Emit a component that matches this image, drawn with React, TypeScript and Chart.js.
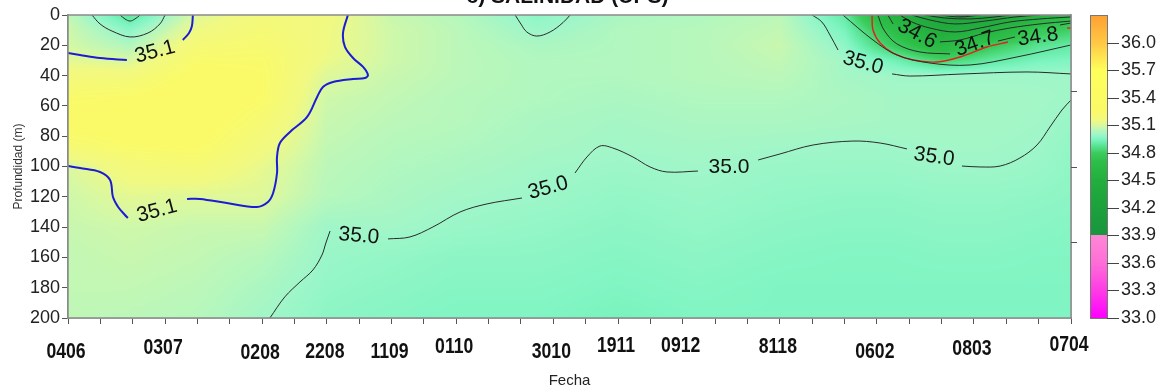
import React, { useEffect, useRef } from 'react';
import { Chart, registerables } from 'chart.js';
Chart.register(...registerables);

// ---------- DATA ----------
const dateLabels = ['0406', '0307', '0208', '2208', '1109', '0110', '3010', '1911', '0912', '8118', '0602', '0803', '0704'];
const dateTickIndex = [0, 3, 6, 8, 10, 12, 15, 17, 19, 22, 25, 28, 31];
const depthTicks = [0, 20, 40, 60, 80, 100, 120, 140, 160, 180, 200];
const colorbarTicks = [33.0, 33.3, 33.6, 33.9, 34.2, 34.5, 34.8, 35.1, 35.4, 35.7, 36.0];

// salinity field nodes (x = date-tick index, depth in m)
const gridX = [0, 1.9, 4, 6, 8, 10, 12, 14.5, 17, 19.5, 22, 24, 25.5, 27, 28.5, 30, 31];
const gridDepth = [0, 10, 20, 30, 40, 55, 70, 85, 100, 120, 140, 160, 180, 200];
// columns (one per gridX), values down the depth list
const salinityColumns = [
  [35.06, 35.08, 35.09, 35.12, 35.18, 35.24, 35.27, 35.22, 35.10, 35.08, 35.07, 35.06, 35.06, 35.055],
  [34.88, 34.97, 35.03, 35.10, 35.18, 35.25, 35.28, 35.25, 35.18, 35.12, 35.08, 35.07, 35.06, 35.05],
  [35.11, 35.15, 35.20, 35.24, 35.27, 35.29, 35.29, 35.26, 35.20, 35.11, 35.07, 35.06, 35.05, 35.04],
  [35.18, 35.20, 35.22, 35.24, 35.25, 35.25, 35.21, 35.17, 35.13, 35.11, 35.07, 35.04, 35.02, 35.005],
  [35.16, 35.15, 35.15, 35.14, 35.11, 35.08, 35.07, 35.06, 35.05, 35.04, 35.0, 34.99, 34.98, 34.97],
  [35.07, 35.08, 35.08, 35.08, 35.07, 35.06, 35.05, 35.04, 35.03, 35.02, 35.005, 34.98, 34.97, 34.96],
  [35.04, 35.05, 35.05, 35.05, 35.05, 35.04, 35.04, 35.03, 35.02, 35.005, 34.99, 34.97, 34.96, 34.95],
  [34.97, 34.995, 35.02, 35.03, 35.03, 35.03, 35.02, 35.015, 35.005, 34.995, 34.98, 34.97, 34.96, 34.95],
  [35.02, 35.03, 35.03, 35.03, 35.03, 35.02, 35.01, 35.005, 34.995, 34.98, 34.97, 34.96, 34.95, 34.94],
  [35.03, 35.04, 35.04, 35.04, 35.04, 35.03, 35.02, 35.01, 35.002, 34.99, 34.98, 34.97, 34.96, 34.95],
  [35.05, 35.06, 35.07, 35.06, 35.05, 35.03, 35.02, 35.005, 34.99, 34.98, 34.97, 34.96, 34.95, 34.95],
  [34.90, 34.94, 34.975, 35.005, 35.01, 35.02, 35.015, 35.0, 34.99, 34.975, 34.965, 34.955, 34.95, 34.95],
  [34.55, 34.70, 34.79, 34.93, 35.0, 35.01, 35.01, 35.0, 34.99, 34.975, 34.965, 34.955, 34.95, 34.95],
  [34.25, 34.45, 34.62, 34.82, 35.0, 35.01, 35.01, 35.005, 34.997, 34.98, 34.97, 34.96, 34.95, 34.95],
  [34.30, 34.55, 34.78, 34.89, 35.0, 35.01, 35.01, 35.005, 34.998, 34.98, 34.97, 34.96, 34.95, 34.95],
  [34.55, 34.77, 34.87, 34.94, 35.0, 35.006, 35.003, 34.998, 34.99, 34.975, 34.965, 34.955, 34.95, 34.95],
  [34.70, 34.81, 34.90, 34.95, 35.0, 35.0, 34.99, 34.98, 34.975, 34.97, 34.96, 34.955, 34.95, 34.95],
];

// contour lines, points as [x index, depth]
const iso351_a1 = [[0, 25.1], [0.37, 26.4], [0.99, 28.4], [1.82, 29.7]];
const iso351_a2 = [[3.55, 16.5], [3.74, 11.9], [3.83, 7.3], [3.86, 0]];
const iso351_b1 = [[8.65, 0], [8.5, 11.9], [8.56, 21.1], [8.81, 28.4], [9.12, 34.3], [9.27, 39.6], [9.18, 41.6], [8.81, 42.2], [8.19, 44.2], [7.88, 47.5], [7.7, 54.1], [7.39, 67.3], [6.86, 77.2], [6.55, 84.5], [6.46, 93.7], [6.46, 104.3], [6.34, 117.5], [6.18, 123.4], [5.84, 126.7], [4.91, 124.1], [4.08, 121.4], [3.68, 121.4]];
const iso351_b2 = [[0, 99.7], [0.37, 101], [0.99, 103.6], [1.3, 108.9], [1.39, 120.1], [1.55, 126.7], [1.76, 132], [1.85, 134]];

const iso350_tl = [[0.74, 0], [0.99, 5.9], [1.36, 10.6], [1.92, 14.5], [2.47, 11.9], [2.84, 5.9], [3.0, 0]];
const iso349_tl = [[1.61, 0], [1.76, 2.6], [1.92, 4], [2.07, 2.6], [2.23, 0]];
const iso350_top = [[13.82, 0], [14.0, 6], [14.18, 11.2], [14.49, 13.9], [14.9, 11.2], [15.3, 5], [15.52, 0]];
const iso350_l1 = [[6.24, 200], [6.7, 186.1], [7.17, 176.2], [7.57, 168.3], [7.85, 158.4], [7.97, 150.5], [8.1, 142.6]];
const iso350_l2 = [[9.89, 147.8], [10.57, 146.5], [11.28, 139.9], [12.12, 130], [12.95, 124.7], [14.03, 120.8]];
const iso350_l3 = [[15.67, 104.3], [16.04, 93.7], [16.44, 86.5], [16.84, 87.8], [17.46, 93.7], [17.99, 100.3], [18.51, 103.6], [19.47, 103]];
const iso350_l4 = [[21.33, 95.7], [22.01, 91.7], [23.03, 85.8], [24.26, 83.2], [25.1, 84.5], [25.93, 88.4]];
const iso350_l5 = [[27.63, 99.7], [28.19, 100.3], [28.81, 99.7], [29.42, 94.4], [29.95, 85.8], [30.35, 73.9], [30.72, 62.7], [31, 56.1]];
const iso350_r1 = [[23.0, 0], [23.3, 4.6], [23.55, 13.2], [23.8, 23.1]];
const iso350_r2 = [[25.47, 38.9], [26.02, 40.3], [27.57, 39], [29.64, 37.6], [31, 38.9]];
const iso349_r = [[23.95, 0], [24.88, 16.5], [25.62, 26.4], [26.64, 31.7], [27.88, 33], [29.33, 27.7], [31, 19.8]];
const iso348_r1 = [[24.85, 0], [24.88, 9.9], [25.1, 18.5], [25.5, 25.1], [26.12, 29.7], [26.86, 31], [27.57, 27.7], [28.4, 21.1], [29.05, 17.8]];
const iso348_r2 = [[30.88, 8.6], [31, 8.6]];
const iso347_a = [[25.03, 0], [25.22, 9.9], [25.62, 19.1], [26.33, 24.4], [27.26, 25.7]];
const iso347_b = [[28.74, 17.2], [29.27, 14.5]];
const iso347_c = [[30.66, 6.6], [31, 5.3]];
const iso346_a = [[25.34, 0], [25.5, 5.9]];
const iso346_b = [[26.95, 17.8], [27.57, 16.5], [28.34, 11.9], [29.11, 8.6], [30.04, 5.9], [31, 4]];
const iso345 = [[25.71, 0], [26.08, 4.6], [26.64, 8.6], [27.41, 11.2], [28.19, 8.6], [29.11, 4.6], [30.04, 2.6], [31, 1.3]];
const iso344 = [[26.08, 0], [26.64, 3.3], [27.41, 5.9], [28.34, 4], [29.27, 1.3], [30.04, 0]];
const iso343 = [[26.49, 0], [27.1, 2], [27.88, 2.6], [28.65, 1.3], [29.11, 0]];
const iso342 = [[26.95, 0], [27.57, 1.3], [28.19, 0]];
const iso341 = [[27.41, 0], [27.63, 0.7], [27.88, 0]];

// contour labels
const labelText = ['35.1', '35.1', '35.0', '35.0', '35.0', '35.0', '35.0', '34.6', '34.7', '34.8'];
const labelX = [2.69, 2.75, 8.99, 14.84, 20.43, 26.77, 24.57, 26.24, 28.03, 29.98];
const labelDepth = [24.4, 129.4, 145.9, 114.2, 100.3, 93.7, 31.7, 12.5, 19.1, 14.5];
const labelAngle = [-15, -15, 5, -15, 0, 8, 15, 28, -20, -8];

const rightTickDepths = [50, 100, 150];

// ---------- styling (not data) ----------
const dateLabelNudge = [3, -1, 4, 3, 3, -2, 3, -3, -3, -2, 3, 0, -4];

// ---------- helpers ----------
const cmapStops: number[][] = [
  [33.0, 255, 0, 255],
  [33.3, 255, 60, 230],
  [33.6, 255, 110, 215],
  [33.899, 255, 135, 215],
  [33.9, 25, 150, 60],
  [34.3, 30, 165, 60],
  [34.5, 35, 175, 62],
  [34.7, 45, 190, 72],
  [34.8, 60, 205, 95],
  [34.9, 100, 235, 165],
  [34.95, 128, 245, 195],
  [35.0, 160, 246, 200],
  [35.05, 188, 247, 185],
  [35.1, 218, 248, 160],
  [35.15, 240, 249, 130],
  [35.25, 250, 250, 105],
  [35.7, 255, 255, 90],
  [36.0, 255, 200, 70],
  [36.3, 255, 160, 50],
];
function colorFor(v: number): number[] {
  if (v <= cmapStops[0][0]) return cmapStops[0].slice(1);
  for (let i = 0; i < cmapStops.length - 1; i++) {
    const a = cmapStops[i], b = cmapStops[i + 1];
    if (v <= b[0]) {
      const t = (v - a[0]) / (b[0] - a[0]);
      return [a[1] + (b[1] - a[1]) * t, a[2] + (b[2] - a[2]) * t, a[3] + (b[3] - a[3]) * t];
    }
  }
  return cmapStops[cmapStops.length - 1].slice(1);
}
function findSeg(arr: number[], v: number) {
  let i = 0;
  while (i < arr.length - 2 && v > arr[i + 1]) i++;
  const t = Math.max(0, Math.min(1, (v - arr[i]) / (arr[i + 1] - arr[i])));
  return [i, t];
}
function sampleField(x: number, d: number) {
  const [i, t] = findSeg(gridX, x);
  const [j, u] = findSeg(gridDepth, d);
  const a = salinityColumns[i][j], b = salinityColumns[i + 1][j];
  const c = salinityColumns[i][j + 1], e = salinityColumns[i + 1][j + 1];
  return (a * (1 - t) + b * t) * (1 - u) + (c * (1 - t) + e * t) * u;
}

const fieldPlugin = {
  id: 'field',
  beforeDatasetsDraw(chart: any) {
    const { ctx, chartArea: a, scales } = chart;
    const xs = scales.x, ys = scales.y;
    const w = Math.round(a.right - a.left), h = Math.round(a.bottom - a.top);
    const off = document.createElement('canvas');
    off.width = w; off.height = h;
    const octx = off.getContext('2d')!;
    const img = octx.createImageData(w, h);
    const xv = new Array(w);
    for (let px = 0; px < w; px++) xv[px] = xs.getValueForPixel(a.left + px + 0.5);
    for (let py = 0; py < h; py++) {
      const d = ys.getValueForPixel(a.top + py + 0.5);
      for (let px = 0; px < w; px++) {
        const c = colorFor(sampleField(xv[px], d));
        const k = (py * w + px) * 4;
        img.data[k] = c[0]; img.data[k + 1] = c[1]; img.data[k + 2] = c[2]; img.data[k + 3] = 255;
      }
    }
    octx.putImageData(img, 0, 0);
    ctx.drawImage(off, a.left, a.top);
  },
};

const decorPlugin = {
  id: 'decor',
  afterDatasetsDraw(chart: any) {
    const { ctx, scales } = chart;
    const xs = scales.x, ys = scales.y;
    ctx.save();
    ctx.fillStyle = '#111';
    ctx.font = '21px "Liberation Sans", Arial, sans-serif';
    ctx.textAlign = 'center';
    ctx.textBaseline = 'middle';
    for (let i = 0; i < labelText.length; i++) {
      ctx.save();
      ctx.translate(xs.getPixelForValue(labelX[i]), ys.getPixelForValue(labelDepth[i]));
      ctx.rotate((labelAngle[i] * Math.PI) / 180);
      ctx.fillText(labelText[i], 0, 0);
      ctx.restore();
    }
    ctx.restore();
  },
  afterDraw(chart: any) {
    const { ctx, chartArea: a, scales } = chart;
    const xs = scales.x, ys = scales.y, cb = scales.cb;
    ctx.save();
    // frame
    ctx.strokeStyle = '#8a8a8a';
    ctx.lineWidth = 1.5;
    ctx.strokeRect(a.left, a.top, a.right - a.left, a.bottom - a.top);
    // right-side ticks
    ctx.strokeStyle = '#555';
    ctx.lineWidth = 1;
    for (const d of rightTickDepths) {
      const py = Math.round(ys.getPixelForValue(d)) + 0.5;
      ctx.beginPath(); ctx.moveTo(a.right, py); ctx.lineTo(a.right + 6, py); ctx.stroke();
    }
    // date labels (condensed bold)
    ctx.fillStyle = '#111';
    ctx.font = 'bold 21px "Liberation Sans", Arial, sans-serif';
    ctx.textAlign = 'center';
    ctx.textBaseline = 'middle';
    for (let i = 0; i < dateLabels.length; i++) {
      ctx.save();
      ctx.translate(xs.getPixelForValue(dateTickIndex[i]) - 2, a.bottom + 31 + dateLabelNudge[i]);
      ctx.scale(0.84, 1.08);
      ctx.fillText(dateLabels[i], 0, 0);
      ctx.restore();
    }
    // colorbar
    const top = cb.getPixelForValue(36.3), bot = cb.getPixelForValue(33.0);
    const bx = a.right + 19, bw = 17;
    for (let py = Math.floor(top); py < Math.ceil(bot); py++) {
      const c = colorFor(cb.getValueForPixel(py + 0.5));
      ctx.fillStyle = `rgb(${c[0] | 0},${c[1] | 0},${c[2] | 0})`;
      ctx.fillRect(bx, py, bw, 1);
    }
    ctx.strokeStyle = '#777';
    ctx.strokeRect(bx + 0.5, top + 0.5, bw, bot - top);
    ctx.strokeStyle = '#444';
    for (const v of colorbarTicks) {
      const py = Math.round(cb.getPixelForValue(v)) + 0.5;
      ctx.beginPath(); ctx.moveTo(bx + bw, py); ctx.lineTo(bx + bw + 12, py); ctx.stroke();
    }
    // title (clipped at top)
    ctx.fillStyle = '#111';
    ctx.font = 'bold 21px "Liberation Sans", Arial, sans-serif';
    ctx.textAlign = 'center';
    ctx.textBaseline = 'alphabetic';
    ctx.fillText('c) SALINIDAD (UPS)', (a.left + a.right) / 2 - 2, 3);
    ctx.restore();
  },
};

function seg(pts: number[][], color: string, width: number) {
  return {
    data: pts.map((p) => ({ x: p[0], y: p[1] })),
    borderColor: color,
    borderWidth: width,
    showLine: true,
    pointRadius: 0,
    tension: 0.35,
    fill: false,
  };
}

const BLACK = '#2a2a2a';
const BLUE = '#1c1cd6';
const RED = '#e3201c';

export default function App() {
  const ref = useRef<HTMLCanvasElement>(null);
  useEffect(() => {
    const datasets = [
      seg(iso351_a1, BLUE, 2), seg(iso351_a2, BLUE, 2), seg(iso351_b1, BLUE, 2), seg(iso351_b2, BLUE, 2),
      seg(iso350_tl, BLACK, 1), seg(iso349_tl, BLACK, 1), seg(iso350_top, BLACK, 1),
      seg(iso350_l1, BLACK, 1), seg(iso350_l2, BLACK, 1), seg(iso350_l3, BLACK, 1), seg(iso350_l4, BLACK, 1), seg(iso350_l5, BLACK, 1),
      seg(iso350_r1, BLACK, 1), seg(iso350_r2, BLACK, 1), seg(iso349_r, BLACK, 1),
      seg(iso348_r1, RED, 1.4), seg(iso348_r2, RED, 1.4),
      seg(iso347_a, BLACK, 1), seg(iso347_b, BLACK, 1), seg(iso347_c, BLACK, 1),
      seg(iso346_a, BLACK, 1), seg(iso346_b, BLACK, 1),
      seg(iso345, BLACK, 1), seg(iso344, BLACK, 1), seg(iso343, BLACK, 1), seg(iso342, BLACK, 1), seg(iso341, BLACK, 1),
    ];
    const chart = new Chart(ref.current!, {
      type: 'scatter',
      data: { datasets },
      plugins: [fieldPlugin, decorPlugin],
      options: {
        responsive: false,
        devicePixelRatio: 1,
        animation: false,
        layout: { padding: { top: 15, left: 0, right: 0, bottom: 0 } },
        plugins: { legend: { display: false }, tooltip: { enabled: false }, title: { display: false } },
        scales: {
          x: {
            type: 'linear',
            position: 'bottom',
            min: 0,
            max: 31,
            afterFit: (s: any) => { s.height = 73; },
            afterBuildTicks: (s: any) => { s.ticks = Array.from({ length: 32 }, (_, i) => ({ value: i })); },
            ticks: {
              autoSkip: false,
              maxRotation: 0,
              minRotation: 0,
              padding: 10,
              color: '#111',
              font: { size: 12 },
              callback: () => '',
            },
            grid: { drawOnChartArea: false, drawTicks: true, tickLength: 6, color: '#555' },
            border: { display: true, color: '#8a8a8a', width: 1.5 },
            title: { display: true, text: 'Fecha', color: '#222', font: { family: '"Liberation Sans", Arial, sans-serif', size: 15 }, padding: { top: 0, bottom: 1 } },
          },
          y: {
            type: 'linear',
            position: 'left',
            reverse: true,
            min: 0,
            max: 200,
            afterFit: (s: any) => { s.width = 68; },
            afterBuildTicks: (s: any) => { s.ticks = depthTicks.map((v) => ({ value: v })); },
            ticks: { color: '#222', padding: 2, font: { family: '"Liberation Sans", Arial, sans-serif', size: 18 } },
            grid: { drawOnChartArea: false, drawTicks: true, tickLength: 6, color: '#555' },
            border: { display: true, color: '#8a8a8a', width: 1.5 },
            title: { display: true, text: 'Profundidad (m)', color: '#333', font: { family: '"Liberation Sans", Arial, sans-serif', size: 12 }, padding: { top: 11, bottom: 0 } },
          },
          cb: {
            type: 'linear',
            position: 'right',
            min: 33.0,
            max: 36.3,
            afterFit: (s: any) => { s.width = 96; },
            afterBuildTicks: (s: any) => { s.ticks = colorbarTicks.map((v) => ({ value: v })); },
            ticks: {
              color: '#222',
              padding: 2,
              font: { family: '"Liberation Sans", Arial, sans-serif', size: 18 },
              callback: (v: any) => Number(v).toFixed(1),
            },
            grid: { display: true, drawOnChartArea: false, drawTicks: true, tickLength: 48, color: 'rgba(0,0,0,0)' },
            border: { display: true, color: '#8a8a8a', width: 1.5 },
          },
        },
      } as any,
    });
    return () => chart.destroy();
  }, []);
  return (
    <canvas
      ref={ref}
      width={1167}
      height={391}
      style={{ position: 'absolute', left: 0, top: 0, width: 1167, height: 391, display: 'block' }}
    />
  );
}
